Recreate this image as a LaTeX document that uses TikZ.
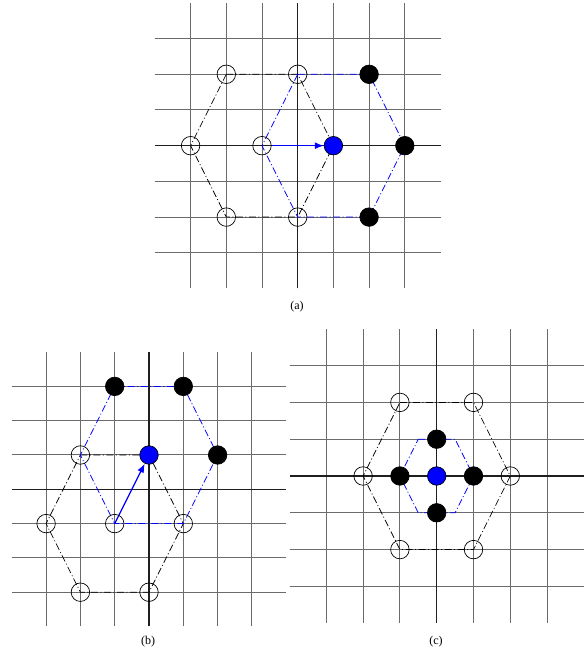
\documentclass[tikz,border=0pt]{standalone}
\usepackage{fontspec}
\setmainfont{Liberation Serif}
\usetikzlibrary{arrows.meta}
\pgfdeclarelayer{gridlayer}
\pgfdeclarelayer{linelayer}
\pgfsetlayers{gridlayer,linelayer,main}
\tikzset{
  gridline/.style={draw=black!58, line width=1pt},
  axisline/.style={draw=black!88, line width=1.1pt},
  opn/.style={circle, draw=black, line width=0.7pt, minimum size=18.5pt, inner sep=0pt},
  blk/.style={opn, fill=black},
  blu/.style={opn, fill=blue},
  hexblack/.style={draw=black, line width=0.75pt, dash pattern=on 7pt off 2.5pt on 1pt off 2.5pt},
  hexblue/.style={draw=blue, line width=0.75pt, dash pattern=on 7pt off 2.5pt on 1pt off 2.5pt},
  movearrow/.style={draw=blue, line width=1.3pt, -{Latex[length=9pt,width=7pt]}},
  caption/.style={font=\fontsize{12}{14}\selectfont, inner sep=0pt}
}
\newcommand\mylattice{%
  \begin{pgfonlayer}{gridlayer}
  \foreach \k in {-3,...,3} {
    \draw[gridline] (-4,\k) -- (4,\k);
    \draw[gridline] (\k,-4) -- (\k,4);
  }
  \draw[axisline] (-4,0) -- (4,0);
  \draw[axisline] (0,-4) -- (0,4);
  \end{pgfonlayer}}
\begin{document}
\begin{tikzpicture}[x=1pt,y=1pt]
\useasboundingbox (0,0) rectangle (587,655);

% ---------- panel (a) ----------
\begin{scope}[shift={(297.7,509.3)}, x=35.7pt, y=35.7pt]
  \mylattice
  \node[opn] (a1) at (-2,2) {};
  \node[opn] (a2) at (0,2) {};
  \node[blk] (a3) at (2,2) {};
  \node[opn] (a4) at (-3,0) {};
  \node[opn] (a5) at (-1,0) {};
  \node[blu] (a6) at (1,0) {};
  \node[blk] (a7) at (3,0) {};
  \node[opn] (a8) at (-2,-2) {};
  \node[opn] (a9) at (0,-2) {};
  \node[blk] (a10) at (2,-2) {};
  \begin{pgfonlayer}{linelayer}
  \draw[hexblack] (a1.center) -- (a2.center) -- (a6.center) -- (a9.center) -- (a8.center) -- (a4.center) -- cycle;
  \draw[hexblue] (a2.center) -- (a3.center) -- (a7.center) -- (a10.center) -- (a9.center) -- (a5.center) -- cycle;
  \draw[movearrow] (a5) -- (a6);
  \end{pgfonlayer}
\end{scope}
\node[caption] (capa) at (297,348) {(a)};

% ---------- panel (b) ----------
\begin{scope}[shift={(149,165.7)}, x=34.3pt, y=34.3pt]
  \mylattice
  \node[blk] (b1) at (-1,3) {};
  \node[blk] (b2) at (1,3) {};
  \node[opn] (b3) at (-2,1) {};
  \node[blu] (b4) at (0,1) {};
  \node[blk] (b5) at (2,1) {};
  \node[opn] (b6) at (-3,-1) {};
  \node[opn] (b7) at (-1,-1) {};
  \node[opn] (b8) at (1,-1) {};
  \node[opn] (b9) at (-2,-3) {};
  \node[opn] (b10) at (0,-3) {};
  \begin{pgfonlayer}{linelayer}
  \draw[hexblack] (b3.center) -- (b4.center) -- (b8.center) -- (b10.center) -- (b9.center) -- (b6.center) -- cycle;
  \draw[hexblue] (b1.center) -- (b2.center) -- (b5.center) -- (b8.center) -- (b7.center) -- (b3.center) -- cycle;
  \draw[movearrow] (b7.center) -- (b4);
  \end{pgfonlayer}
\end{scope}
\node[caption] (capb) at (148,13) {(b)};

% ---------- panel (c) ----------
\begin{scope}[shift={(436.7,179)}, x=36.8pt, y=36.8pt]
  \mylattice
  \node[opn] (c1) at (-1,2) {};
  \node[opn] (c2) at (1,2) {};
  \node[opn] (c3) at (-2,0) {};
  \node[opn] (c4) at (2,0) {};
  \node[opn] (c5) at (-1,-2) {};
  \node[opn] (c6) at (1,-2) {};
  \node[blk] (c7) at (0,1) {};
  \node[blk] (c8) at (-1,0) {};
  \node[blu] (c9) at (0,0) {};
  \node[blk] (c10) at (1,0) {};
  \node[blk] (c11) at (0,-1) {};
  \coordinate (h1) at (-0.5,1);
  \coordinate (h2) at (0.5,1);
  \coordinate (h3) at (0.5,-1);
  \coordinate (h4) at (-0.5,-1);
  \begin{pgfonlayer}{linelayer}
  \draw[hexblack] (c1.center) -- (c2.center) -- (c4.center) -- (c6.center) -- (c5.center) -- (c3.center) -- cycle;
  \draw[hexblue] (h1) -- (h2) -- (c10.center) -- (h3) -- (h4) -- (c8.center) -- cycle;
  \end{pgfonlayer}
\end{scope}
\node[caption] (capc) at (436,13) {(c)};
\end{tikzpicture}
\end{document}
